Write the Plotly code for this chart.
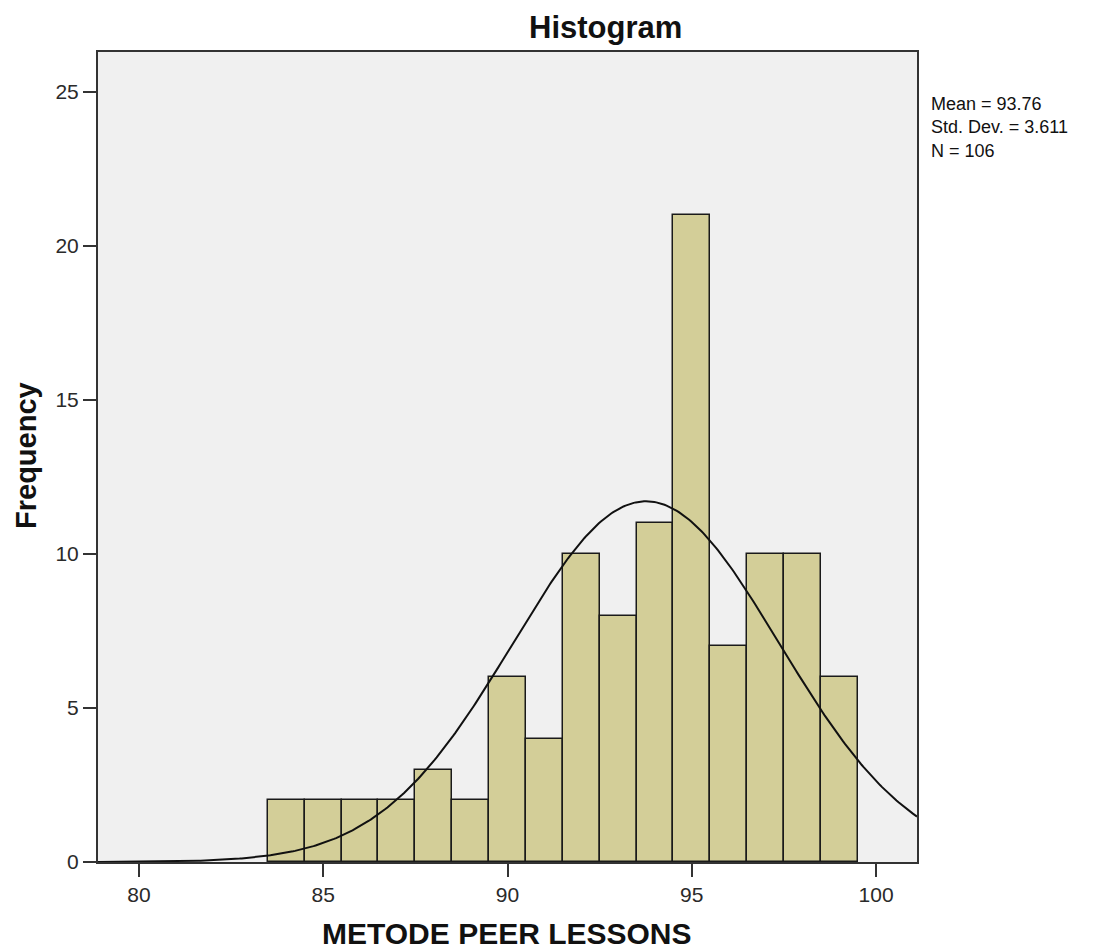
import numpy as np
import plotly.graph_objects as go

# Data
bin_centers = [84, 85, 86, 87, 88, 89, 90, 91, 92, 93, 94, 95, 96, 97, 98, 99]
frequencies = [2, 2, 2, 2, 3, 2, 6, 4, 10, 8, 11, 21, 7, 10, 10, 6]
mean_val = 93.76
std_val = 3.611
n_val = 106
bin_width = 1
x_ticks = [80, 85, 90, 95, 100]
y_ticks = [0, 5, 10, 15, 20, 25]
stats_lines = ["Mean = 93.76", "Std. Dev. = 3.611", "N = 106"]

font_family = "Liberation Sans, Arial, sans-serif"

# plot area in page: x 98..917, y 52..862
W, H = 1105, 949
L, T, R, B = 98, 52, 188, 87
pw, ph = W - L - R, H - T - B

def px(xp):
    return (xp - L) / pw

def py(yp):
    return 1 - (yp - T) / ph

fig = go.Figure()
fig.add_trace(go.Bar(
    x=bin_centers, y=frequencies, width=bin_width,
    marker=dict(color="#D3CE98", line=dict(color="#1a1a1a", width=1.5)),
    showlegend=False, hoverinfo="x+y",
))

# Normal curve fitted from the reported statistics
xs = np.linspace(78.89, 101.11, 400)
ys = n_val * bin_width / (std_val * np.sqrt(2 * np.pi)) * np.exp(-0.5 * ((xs - mean_val) / std_val) ** 2)
fig.add_trace(go.Scatter(x=xs, y=ys, mode="lines",
                         line=dict(color="#111111", width=2), showlegend=False, hoverinfo="skip"))

annotations = [
    dict(text="<b>Histogram</b>", xref="paper", yref="paper", x=px(605.5), y=py(28),
         xanchor="center", yanchor="middle", showarrow=False,
         font=dict(size=31, color="#111111")),
    dict(text="<b>METODE PEER LESSONS</b>", xref="paper", yref="paper", x=px(507), y=py(933),
         xanchor="center", yanchor="middle", showarrow=False,
         font=dict(size=30, color="#111111")),
    dict(text="<b>Frequency</b>", xref="paper", yref="paper", x=px(26), y=py(456),
         xanchor="center", yanchor="middle", showarrow=False, textangle=-90,
         font=dict(size=29, color="#111111")),
    dict(text="<br>".join(stats_lines), xref="paper", yref="paper", x=px(929), y=py(92),
         xanchor="left", yanchor="top", align="left", showarrow=False,
         font=dict(size=18, color="#111111")),
]

fig.update_layout(
    width=W, height=H,
    margin=dict(l=L, r=R, t=T, b=B),
    paper_bgcolor="white", plot_bgcolor="#F0F0F0",
    font=dict(family=font_family, size=20, color="#222222"),
    bargap=0,
    annotations=annotations,
)

fig.update_xaxes(
    range=[78.89, 101.11], tickvals=x_ticks, ticks="outside", ticklen=13, tickwidth=2,
    tickcolor="#333333", showline=True, linecolor="#333333", linewidth=2, mirror=True,
    showgrid=False, zeroline=False, tickfont=dict(size=21, color="#2a2a2a"),
)
fig.update_yaxes(
    range=[0, 26.3], tickvals=y_ticks, ticks="outside", ticklen=13, tickwidth=2,
    tickcolor="#333333", showline=True, linecolor="#333333", linewidth=2, mirror=True,
    showgrid=False, zeroline=False, tickfont=dict(size=21, color="#2a2a2a"),
)

fig.write_html("out.html", config={"displayModeBar": False},
               post_script="document.body.style.margin='0px';document.body.style.overflow='hidden';")
